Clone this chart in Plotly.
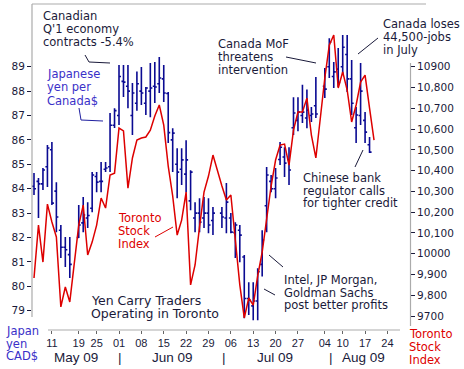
import plotly.graph_objects as go
import pandas as pd

# ---------------- data ----------------
holidays = ["2009-05-18", "2009-07-01", "2009-08-03"]
trade_dates = [d.strftime("%Y-%m-%d") for d in pd.bdate_range("2009-05-05", "2009-08-19")
               if d.strftime("%Y-%m-%d") not in holidays]

yen_open = [84.1, 84.3, 84.2, 84.9, 85.6, 83.9, 82.3, 81.6, 81.3,
            82.0, 82.6, 82.8, 83.2, 84.5, 84.3, 84.8, 84.9, 86.6,
            87.0, 88.4, 88.2, 87.0, 87.5, 88.0, 87.5, 88.0, 88.2, 88.3,
            88.5, 87.9, 86.0, 85.0, 84.8, 84.6, 83.5, 82.8, 83.0, 82.8, 83.0, 82.7,
            83.0, 82.8, 82.8, 82.2, 82.3, 81.2, 79.5, 79.2, 79.4, 80.9, 83.3, 84.3,
            84.0, 85.2, 85.3, 85.2, 86.5, 86.8, 87.0, 86.9, 87.0, 87.4,
            88.2, 89.0, 88.6, 88.9, 89.0, 89.5, 88.5, 86.5, 87.0, 86.8, 85.8, None]
yen_high = [84.64, 84.44, 84.85, 85.79, 85.91, 84.27, 82.51, 82.02, 82.02,
            83.33, 83.66, 83.45, 84.68, 84.68, 85.09, 85.09, 87.1, 87.3,
            89.07, 89.07, 89.07, 88.33, 88.8, 88.99, 88.17, 89.15, 89.19, 89.4,
            89.07, 87.96, 86.48, 85.66, 85.66, 85.99, 84.76, 83.45, 83.61, 83.66, 83.61, 83.25,
            83.25, 84.23, 83.0, 82.63, 82.51, 81.28, 80.17, 80.17, 80.74, 82.3, 84.89, 84.56,
            84.85, 85.91, 85.7, 85.7, 87.75, 87.75, 88.26, 88.07, 87.35, 88.58,
            88.95, 90.17, 89.19, 89.77, 90.3, 90.3, 89.27, 87.35, 89.15, 87.14, 86.12, None]
yen_low = [83.74, 82.80, 83.95, 84.07, 83.33, 82.22, 81.16, 80.79, 80.34,
           81.98, 82.22, 82.39, 83.04, 83.86, 83.86, 84.68, 84.68, 86.49,
           86.61, 87.76, 87.3, 86.2, 87.2, 87.43, 87.02, 86.93, 87.51, 87.92,
           87.55, 85.87, 84.68, 83.61, 84.15, 83.86, 83.12, 82.22, 82.22, 82.39, 82.18, 82.1,
           82.39, 82.18, 82.18, 81.16, 80.99, 78.69, 78.82, 78.61, 78.61, 80.4, 82.22, 83.86,
           83.61, 84.97, 84.48, 84.15, 86.2, 86.36, 86.69, 86.48, 86.73, 86.9,
           87.72, 88.54, 88.13, 88.17, 88.66, 87.96, 87.02, 85.87, 86.61, 85.87, 85.46, None]
yen_close = [84.0, 84.2, 84.77, 85.67, 83.41, 82.84, 81.6, 81.5, 80.9,
             82.51, 82.92, 82.9, 84.56, 84.27, 84.3, 84.85, 86.6, 87.2,
             88.6, 88.37, 88.0, 87.92, 88.3, 87.92, 88.13, 88.13, 88.17, 88.54,
             87.92, 86.3, 86.28, 84.68, 85.18, 85.18, 84.68, 83.0, 82.63, 83.0, 82.51, 83.0,
             82.84, 83.45, 82.22, 82.51, 82.1, 79.5, 79.43, 79.4, 80.6, 81.9, 84.56, 84.0,
             84.44, 85.7, 85.05, 84.77, 87.1, 87.14, 87.14, 87.22, 87.06, 87.06,
             88.08, 90.0, 88.79, 88.35, 89.8, 88.5, 87.5, 87.02, 88.0, 86.32, 85.5, None]

tsx_close = [9883, 10138, 9960, 10239, 10153, 10081, 9744, 9840, 9768,
             10138, 10234, 9994, 10056, 10138, 10268, 10220, 10379, 10388,
             10605, 10591, 10316, 10461, 10547, 10557, 10562, 10595, 10663, 10716,
             10619, 10422, 10278, 10090, 10162, 10297, 9850, 9946, 10129, 10297, 10374, 10475,
             10326, 10259, 10283, 10047, 9850, 9691, 9787, 9753, 9893, 10008, 10162, 10326,
             10451, 10523, 10528, 10427, 10595, 10682, 10682, 10749, 10571, 10461,
             10846, 11004, 11053, 10798, 10875, 10788, 10634, 10716, 10826, 10860, 10701, 10547]

x_tick_dates = ["2009-05-11", "2009-05-19", "2009-05-25", "2009-06-01", "2009-06-08",
                "2009-06-15", "2009-06-22", "2009-06-29", "2009-07-06", "2009-07-13",
                "2009-07-20", "2009-07-27", "2009-08-04", "2009-08-10", "2009-08-17",
                "2009-08-24"]
x_tick_text = ["11", "19", "25", "01", "08", "15", "22", "29", "06", "13",
               "20", "27", "04", "10", "17", "24"]
left_ticks = [79, 80, 81, 82, 83, 84, 85, 86, 87, 88, 89]
right_ticks = [9700, 9800, 9900, 10000, 10100, 10200, 10300, 10400, 10500,
               10600, 10700, 10800, 10900]
right_tick_text = ["9700", "9,800", "9,900", "10000", "10,100", "10,200", "10,300",
                   "10,400", "10,500", "10,600", "10,700", "10,800", "10900"]

# ---------------- figure ----------------
W, H = 464, 369
L, R, T, B = 32, 54, 4, 39
PW, PH = W - L - R, H - T - B

def px(x):
    return (x - L) / PW

def py(y):
    return (H - B - y) / PH

BLUE_BAR = "#0a0a92"
RED = "#dd0000"
DARK = "#1a1a3a"
TXTBLUE = "#3a30c8"

fig = go.Figure()
fig.add_trace(go.Ohlc(x=trade_dates, open=yen_open, high=yen_high, low=yen_low, close=yen_close,
                      increasing=dict(line=dict(color=BLUE_BAR, width=1.6)),
                      decreasing=dict(line=dict(color=BLUE_BAR, width=1.6)),
                      tickwidth=0.45, yaxis="y", hoverinfo="skip"))
fig.add_trace(go.Scatter(x=trade_dates, y=tsx_close, mode="lines",
                         line=dict(color=RED, width=1.5), yaxis="y2", hoverinfo="skip"))

fig.update_layout(
    width=W, height=H, margin=dict(l=L, r=R, t=T, b=B, pad=0),
    paper_bgcolor="white", plot_bgcolor="white", showlegend=False,
    xaxis=dict(type="date", range=["2009-05-04 13:16", "2009-08-31 01:00"],
               rangebreaks=[dict(bounds=["sat", "mon"])],
               rangeslider=dict(visible=False),
               tickvals=x_tick_dates, ticktext=x_tick_text,
               ticks="outside", ticklen=3, tickcolor="#666", tickwidth=1,
               showline=False, showgrid=False, zeroline=False,
               tickfont=dict(family="Liberation Sans", size=11, color=DARK)),
    yaxis=dict(range=[78.21, 91.57], tickvals=left_ticks,
               ticks="outside", ticklen=4, tickcolor=DARK, tickwidth=1,
               showline=False, showgrid=False, zeroline=False,
               tickfont=dict(family="DejaVu Sans", size=10.5, color=DARK)),
    yaxis2=dict(range=[9633, 11202], overlaying="y", side="right",
                tickvals=right_ticks, ticktext=right_tick_text,
                ticks="outside", ticklen=4, tickcolor=DARK, tickwidth=1,
                showline=False, showgrid=False, zeroline=False,
                tickfont=dict(family="DejaVu Sans", size=10.5, color=DARK)),
)

GRAY = "#ababab"
def line(x0, y0, x1, y1, color=GRAY, width=1.2):
    fig.add_shape(type="line", xref="paper", yref="paper",
                  x0=px(x0), y0=py(y0), x1=px(x1), y1=py(y1),
                  line=dict(color=color, width=width))

# frame lines
line(32, 4, 32, 317)
line(32, 4, 426, 4)
line(410.5, 63, 410.5, 326)
line(48, 330, 400, 330)

# pointer lines
line(85, 55, 89, 62, DARK, 1)
line(89, 62, 110, 63, DARK, 1)
line(79, 108, 81, 120, "#2020a0", 1)
line(81, 120, 103, 121, "#2020a0", 1)
line(155, 237, 173, 227, RED, 1)
line(286, 57, 316, 63, DARK, 1)
line(378, 38, 358, 54, DARK, 1)
line(355, 167, 363, 150, DARK, 1)
line(269, 255, 283, 267, DARK, 1)
line(264, 289, 275, 295, DARK, 1)

def text(x, y, s, color=DARK, size=11.5, family="DejaVu Sans", anchor="left"):
    fig.add_annotation(x=px(x), y=py(y), xref="paper", yref="paper", text=s,
                       showarrow=False, xanchor=anchor, yanchor="middle",
                       font=dict(family=family, size=size, color=color), borderpad=0)

for i, s in enumerate(["Canadian", "Q'1 economy", "contracts -5.4%"]):
    text(42, 16 + 12.8 * i, s)
for i, s in enumerate(["Japanese", "yen per", "Canada$"]):
    text(46, 74 + 13.5 * i, s, TXTBLUE)
for i, s in enumerate(["Toronto", "Stock", "Index"]):
    text(117, 218 + 13 * i, s, RED)
for i, s in enumerate(["Yen Carry Traders", "Operating in Toronto"]):
    text(90, 300 + 13 * i, s, DARK, 12.5)
for i, s in enumerate(["Canada MoF", "threatens", "intervention"]):
    text(217, 44 + 13 * i, s)
for i, s in enumerate(["Canada loses", "44,500-jobs", "in July"]):
    text(382, 24 + 13 * i, s)
for i, s in enumerate(["Chinese bank", "regulator calls", "for tighter credit"]):
    text(302, 178 + 12.7 * i, s)
for i, s in enumerate(["Intel, JP Morgan,", "Goldman Sachs", "post better profits"]):
    text(283, 280 + 12.5 * i, s)
for i, s in enumerate(["Japan", "yen", "CAD$"]):
    text(5, 331 + 12.5 * i, s, TXTBLUE, 11.5)
for i, s in enumerate(["Toronto", "Stock", "Index"]):
    text(408, 333.5 + 13 * i, s, RED)

months = [("May 09", 76), ("Jun 09", 172), ("Jul 09", 275), ("Aug 09", 363)]
for s, x in months:
    text(x, 357, s, DARK, 13.5, "Liberation Sans", "center")
for x in [120, 224, 331]:
    text(x, 357, "|", DARK, 13.5, "Liberation Sans", "center")

fig.write_html("out.html", config={"displayModeBar": False},
               post_script="document.body.style.margin='0';document.body.style.overflow='hidden';")
